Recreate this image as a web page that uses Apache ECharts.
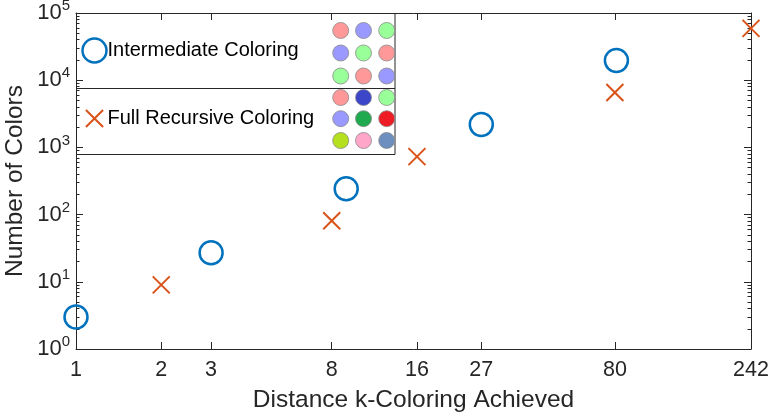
<!DOCTYPE html>
<html>
<head>
<meta charset="utf-8">
<script src="https://cdn.jsdelivr.net/npm/echarts@6/dist/echarts.min.js"></script>
<style>html,body{margin:0;padding:0;background:#fff}#c{width:770px;height:416px}</style>
</head>
<body>
<div id="c"></div>
<script>
// ---- data ----
const xTickLabels = [1, 2, 3, 8, 16, 27, 80, 242];
const yTickExponents = [0, 1, 2, 3, 4, 5];
const intermediateX = [1, 3, 9, 27, 81];
const intermediateY = [3, 27, 243, 2187, 19683];
const fullX = [2, 8, 16, 80, 242];
const fullY = [9, 81, 729, 6561, 59049];
const seriesNames = ['Intermediate Coloring', 'Full Recursive Coloring'];
const gridColorsTop = [
  ['#FF9999', '#9999FF', '#99FF99'],
  ['#9999FF', '#99FF99', '#FF9999'],
  ['#99FF99', '#FF9999', '#9999FF']
];
const gridColorsBottom = [
  ['#FF9999', '#3B46C8', '#99FF99'],
  ['#9999FF', '#1FAA50', '#EE1C25'],
  ['#B5E01E', '#FFA6C9', '#6D8FBF']
];

// ---- helpers ----
const L = Math.log10;
const FONT = "'Liberation Sans', Arial, Helvetica, sans-serif";
const AX = '#262626';
const xMax = L(242);
const xTickPos = xTickLabels.map(L);
const yMajorPos = yTickExponents.slice();
const yMinorPos = [];
for (let e = 0; e < 5; e++) for (let d = 2; d <= 9; d++) yMinorPos.push(L(d) + e);

const chart = echarts.init(document.getElementById('c'), null, {renderer: 'canvas'});

function yAxisDef(pos, custom, len, showLine, showLabel) {
  return {
    type: 'value', min: 0, max: 5, position: pos,
    axisLine: {show: showLine, onZero: false, lineStyle: {color: AX, width: 1}},
    axisTick: {show: true, inside: true, length: len, customValues: custom, lineStyle: {color: AX, width: 1}},
    axisLabel: showLabel ? {
      show: true, customValues: yMajorPos, margin: 6,
      formatter: v => '{b|10}{s|' + Math.round(v) + '}',
      rich: {
        b: {fontSize: 22, fontFamily: FONT, color: AX},
        s: {fontSize: 15, fontFamily: FONT, color: AX, padding: [0, 0, 14, 0]}
      }
    } : {show: false},
    splitLine: {show: false}
  };
}

function xAxisDef(pos, showLabel) {
  return {
    type: 'value', min: 0, max: xMax, position: pos,
    axisLine: {show: true, onZero: false, lineStyle: {color: AX, width: 1}},
    axisTick: {show: true, inside: true, length: 7, customValues: xTickPos, lineStyle: {color: AX, width: 1}},
    axisLabel: showLabel ? {
      show: true, customValues: xTickPos, margin: 10,
      formatter: v => String(Math.round(Math.pow(10, v))),
      fontSize: 21.5, fontFamily: FONT, color: AX
    } : {show: false},
    splitLine: {show: false}
  };
}

const xMain = xAxisDef('bottom', true);
xMain.name = 'Distance k-Coloring Achieved';
xMain.nameLocation = 'middle';
xMain.nameGap = 39;
xMain.nameMoveOverlap = false;
xMain.nameTextStyle = {fontSize: 24.5, fontFamily: FONT, color: AX};

const yMain = yAxisDef('left', yMajorPos, 7, true, true);
yMain.name = 'Number of Colors';
yMain.nameLocation = 'middle';
yMain.nameGap = 48;
yMain.nameMoveOverlap = false;
yMain.nameTextStyle = {fontSize: 24.5, fontFamily: FONT, color: AX};

const graphics = [
  {type: 'rect', z: 100, shape: {x: 76.5, y: 13.5, width: 318.5, height: 141}, style: {fill: 'none', stroke: AX, lineWidth: 1}},
  {type: 'line', z: 100, shape: {x1: 76.5, y1: 88.5, x2: 395, y2: 88.5}, style: {stroke: AX, lineWidth: 1}}
];
const cols = [340.7, 363.5, 386.7];
const rowsTop = [30.5, 53, 76];
const rowsBottom = [97.5, 118.7, 140.5];
function addGrid(colors, rows) {
  colors.forEach((row, ri) => row.forEach((c, ci) => {
    graphics.push({type: 'circle', z: 101, shape: {cx: cols[ci], cy: rows[ri], r: 8},
      style: {fill: c, stroke: '#8a8a8a', lineWidth: 0.8}});
  }));
}
addGrid(gridColorsTop, rowsTop);
addGrid(gridColorsBottom, rowsBottom);

const option = {
  backgroundColor: '#fff',
  animation: false,
  grid: {left: 76, right: 19, top: 13, bottom: 67, containLabel: false, outerBoundsMode: 'none'},
  xAxis: [xMain, xAxisDef('top', false)],
  yAxis: [
    yMain,
    yAxisDef('left', yMinorPos, 3.5, false, false),
    yAxisDef('right', yMajorPos, 7, true, false),
    yAxisDef('right', yMinorPos, 3.5, false, false)
  ],
  legend: {
    orient: 'vertical', left: 80, top: 36, padding: 0,
    itemWidth: 24, itemHeight: 24, itemGap: 39,
    textStyle: {fontSize: 20, fontFamily: FONT, color: '#000', padding: [0, 0, 0, -4]},
    data: [
      {name: seriesNames[0], icon: 'circle', itemStyle: {color: 'none', borderColor: '#0072BD', borderWidth: 2.5, opacity: 1}},
      {name: seriesNames[1], icon: 'path://M-0.2,-0.2M0,0L1,1M1,0L0,1M1.2,1.2', itemStyle: {color: 'none', borderColor: '#D95319', borderWidth: 2, opacity: 1}}
    ],
    z: 102
  },
  graphic: graphics,
  series: [
    {
      name: seriesNames[0], type: 'scatter', xAxisIndex: 0, yAxisIndex: 0,
      symbol: 'circle', symbolSize: 23, clip: false,
      itemStyle: {color: 'none', borderColor: '#0072BD', borderWidth: 2.5, opacity: 1},
      data: intermediateX.map((x, i) => [L(x), L(intermediateY[i])])
    },
    {
      name: seriesNames[1], type: 'scatter', xAxisIndex: 0, yAxisIndex: 0,
      symbol: 'path://M0,0L1,1M1,0L0,1', symbolSize: 17, clip: false,
      itemStyle: {color: 'none', borderColor: '#D95319', borderWidth: 2, opacity: 1},
      data: fullX.map((x, i) => [L(x), L(fullY[i])])
    }
  ]
};
chart.setOption(option);
</script>
</body>
</html>
